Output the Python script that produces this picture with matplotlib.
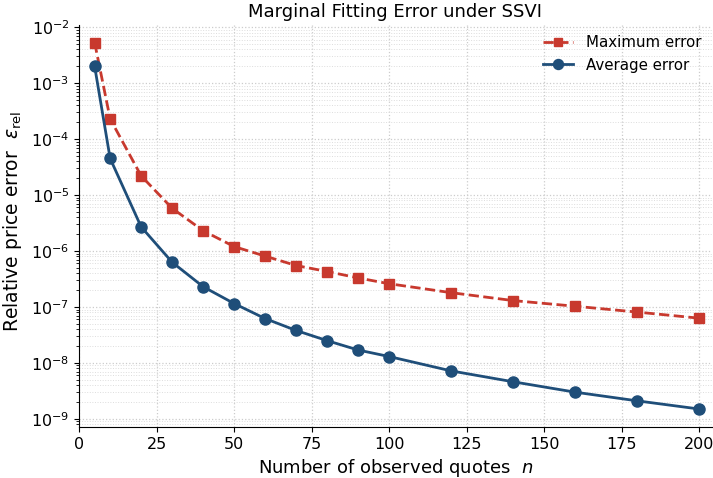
import numpy as np
import matplotlib
matplotlib.use("Agg")
import matplotlib.pyplot as plt

# number of observed quotes
n_quotes = [5, 10, 20, 30, 40, 50, 60, 70, 80, 90, 100, 120, 140, 160, 180, 200]
# relative price errors
max_err = [5.3e-3, 2.3e-4, 2.2e-5, 5.8e-6, 2.3e-6, 1.2e-6, 8.1e-7, 5.5e-7, 4.3e-7, 3.3e-7,
           2.6e-7, 1.8e-7, 1.3e-7, 1.03e-7, 8.1e-8, 6.3e-8]
avg_err = [2.0e-3, 4.5e-5, 2.7e-6, 6.3e-7, 2.3e-7, 1.15e-7, 6.2e-8, 3.8e-8, 2.5e-8, 1.7e-8,
           1.3e-8, 7.2e-9, 4.6e-9, 3.0e-9, 2.1e-9, 1.5e-9]

red = "#c8392e"
blue = "#1f4e79"

fig = plt.figure(figsize=(7.13, 4.78), dpi=100)
ax = fig.add_axes([0.111, 0.107, 0.887, 0.841])

ax.plot(n_quotes, max_err, "--", color=red, marker="s", markersize=7, linewidth=2,
        label="Maximum error")
ax.plot(n_quotes, avg_err, "-", color=blue, marker="o", markersize=8, linewidth=2,
        label="Average error")
ax.set_yscale("log")
ax.set_xlim(0, 204)
ax.set_ylim(7.2e-10, 1.1e-2)

ax.grid(True, which="major", linestyle=":", color="#cccccc", linewidth=0.9)
ax.grid(True, which="minor", linestyle=":", color="#dddddd", linewidth=0.7)
ax.set_axisbelow(True)
for s in ("top", "right"):
    ax.spines[s].set_visible(False)

ax.tick_params(labelsize=11.5)
ax.set_title("Marginal Fitting Error under SSVI", fontsize=13)
ax.set_xlabel("Number of observed quotes  $n$", fontsize=13)
ax.set_ylabel(r"Relative price error  $\varepsilon_{\rm rel}$", fontsize=13.5)
ax.yaxis.set_label_coords(-0.087, 0.51)
ax.legend(loc="upper right", bbox_to_anchor=(1.006, 1.008), fontsize=10.8, frameon=False,
          handletextpad=0.9, labelspacing=0.5, markerscale=0.9)

fig.savefig("out.png", dpi=100)
